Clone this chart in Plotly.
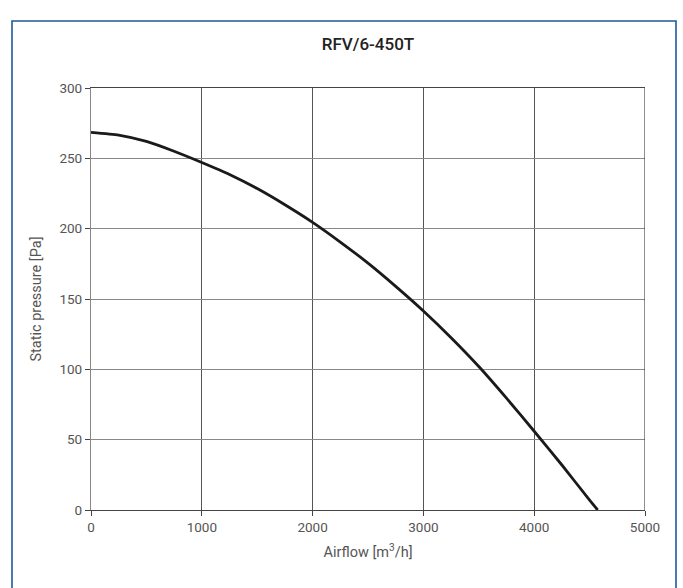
import plotly.graph_objects as go

title_text = "RFV/6-450T"
x_title = "Airflow [m<sup>3</sup>/h]"
y_title = "Static pressure [Pa]"

airflow = [0, 250, 500, 750, 1000, 1250, 1500, 1750, 2000, 2250, 2500, 2750,
           3000, 3250, 3500, 3750, 4000, 4250, 4500, 4573]
pressure = [268.5, 266.5, 262, 255, 247, 238.5, 228.5, 217, 204.5, 190.5, 175.5, 159,
            141.5, 122.5, 102, 79.5, 56, 32, 7, 0]

x_ticks = [0, 1000, 2000, 3000, 4000, 5000]
y_ticks = [0, 50, 100, 150, 200, 250, 300]

W, H = 683, 588
L, R, T, B = 91, 38, 88, 78
pw, ph = W - L - R, H - T - B

fig = go.Figure()
fig.add_trace(go.Scatter(x=airflow, y=pressure, mode="lines",
                         line=dict(color="#1a1a1a", width=2.8, shape="spline", smoothing=0.5),
                         hoverinfo="x+y", showlegend=False))

font_family = "Roboto, 'DejaVu Sans', sans-serif"
fig.update_layout(
    width=W, height=H,
    margin=dict(l=L, r=R, t=T, b=B),
    paper_bgcolor="white", plot_bgcolor="white",
    font=dict(family=font_family, color="#555", size=13.5),
    title=dict(text=title_text, x=0.5, xref="paper", xanchor="center",
               y=1 - 44 / H, yanchor="middle",
               font=dict(size=17, color="#222", family=font_family, weight=500)),
    xaxis=dict(range=[0, 5000], tickvals=x_ticks, showgrid=True, gridcolor="#555",
               gridwidth=1, showline=True, linecolor="#444", linewidth=1.2, mirror=True,
               ticks="outside", ticklen=5, tickcolor="#444", zeroline=False,
               title=dict(text=x_title, standoff=12, font=dict(size=14.5, color="#555")),
               tickfont=dict(size=13.5, color="#555")),
    yaxis=dict(range=[0, 300], tickvals=y_ticks, showgrid=True, gridcolor="#888",
               gridwidth=1, showline=True, linecolor="#888", linewidth=1.2, mirror=False,
               ticks="outside", ticklen=5, tickcolor="#444", zeroline=False,
               title=dict(text=y_title, standoff=14, font=dict(size=14.5, color="#555")),
               tickfont=dict(size=13.5, color="#555")),
    shapes=[
        dict(type="line", xref="x", yref="y", x0=5000, x1=5000, y0=0, y1=300,
             line=dict(color="#444", width=1.2), layer="above"),
        dict(type="rect", xref="paper", yref="paper",
             x0=(12 - L) / pw, x1=(676 - L) / pw,
             y0=(H - T - 610) / ph, y1=(H - T - 11) / ph,
             line=dict(color="#1f5a99", width=1.6), fillcolor="rgba(0,0,0,0)",
             layer="above"),
    ],
)

fig.write_html("out.html", config={"displayModeBar": False},
               post_script="document.body.style.margin='0';document.body.style.overflow='hidden';")
